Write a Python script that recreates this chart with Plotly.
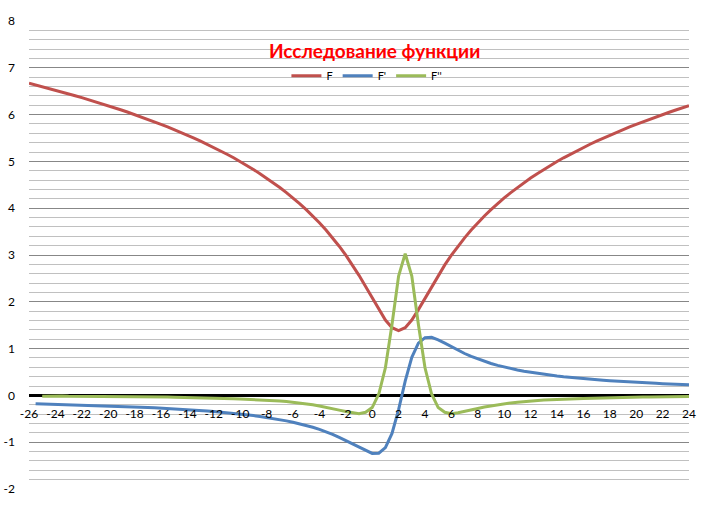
import plotly.graph_objects as go

# x categories (step 0.5)
x_vals = [-26, -25.5, -25, -24.5, -24, -23.5, -23, -22.5, -22, -21.5,
          -21, -20.5, -20, -19.5, -19, -18.5, -18, -17.5, -17, -16.5,
          -16, -15.5, -15, -14.5, -14, -13.5, -13, -12.5, -12, -11.5,
          -11, -10.5, -10, -9.5, -9, -8.5, -8, -7.5, -7, -6.5,
          -6, -5.5, -5, -4.5, -4, -3.5, -3, -2.5, -2, -1.5,
          -1, -0.5, 0, 0.5, 1, 1.5, 2, 2.5, 3, 3.5,
          4, 4.5, 5, 5.5, 6, 6.5, 7, 7.5, 8, 8.5,
          9, 9.5, 10, 10.5, 11, 11.5, 12, 12.5, 13, 13.5,
          14, 14.5, 15, 15.5, 16, 16.5, 17, 17.5, 18, 18.5,
          19, 19.5, 20, 20.5, 21, 21.5, 22, 22.5, 23, 23.5,
          24]

# F
f0 = [6.670, 6.634, 6.597, 6.560, 6.522, 6.484, 6.444, 6.404, 6.363, 6.321,
      6.279, 6.235, 6.190, 6.145, 6.098, 6.050, 6.001, 5.951, 5.900, 5.847,
      5.793, 5.737, 5.680, 5.621, 5.561, 5.498, 5.434, 5.367, 5.298, 5.227,
      5.153, 5.077, 4.997, 4.915, 4.828, 4.738, 4.644, 4.546, 4.443, 4.334,
      4.220, 4.099, 3.970, 3.834, 3.689, 3.534, 3.367, 3.188, 2.996, 2.788,
      2.565, 2.327, 2.079, 1.833, 1.609, 1.447, 1.386, 1.447, 1.609, 1.833,
      2.079, 2.327, 2.565, 2.788, 2.996, 3.188, 3.367, 3.534, 3.689, 3.834,
      3.970, 4.099, 4.220, 4.334, 4.443, 4.546, 4.644, 4.738, 4.828, 4.915,
      4.997, 5.077, 5.153, 5.227, 5.298, 5.367, 5.434, 5.498, 5.561, 5.621,
      5.680, 5.737, 5.793, 5.847, 5.900, 5.951, 6.001, 6.050, 6.098, 6.145,
      6.190]

# F' (starts at -25.5)
f1 = [None,
      -0.179, -0.183, -0.186, -0.190, -0.193, -0.197, -0.201, -0.205, -0.209, -0.214,
      -0.218, -0.223, -0.228, -0.233, -0.239, -0.245, -0.251, -0.257, -0.264, -0.271,
      -0.278, -0.286, -0.295, -0.303, -0.313, -0.323, -0.333, -0.344, -0.356, -0.369,
      -0.383, -0.398, -0.414, -0.431, -0.450, -0.470, -0.493, -0.516, -0.544, -0.573,
      -0.605, -0.641, -0.681, -0.726, -0.776, -0.832, -0.895, -0.964, -1.038, -1.116,
      -1.188, -1.240, -1.234, -1.116, -0.813, -0.303, 0.303, 0.813, 1.116, 1.234,
      1.240, 1.188, 1.116, 1.038, 0.964, 0.895, 0.832, 0.776, 0.726, 0.681,
      0.641, 0.605, 0.573, 0.544, 0.516, 0.493, 0.470, 0.450, 0.431, 0.414,
      0.398, 0.383, 0.369, 0.356, 0.344, 0.333, 0.323, 0.313, 0.303, 0.295,
      0.286, 0.278, 0.271, 0.264, 0.257, 0.251, 0.245, 0.239, 0.233, 0.228]

# F'' (starts at -25)
f2 = [None, None,
      -0.020, -0.015, -0.020, -0.015, -0.020, -0.020, -0.020, -0.020, -0.025,
      -0.020, -0.025, -0.025, -0.025, -0.030, -0.030, -0.030, -0.030, -0.035, -0.035,
      -0.035, -0.040, -0.045, -0.040, -0.050, -0.050, -0.050, -0.055, -0.060, -0.065,
      -0.070, -0.075, -0.080, -0.085, -0.095, -0.100, -0.105, -0.120, -0.130, -0.145,
      -0.160, -0.180, -0.200, -0.225, -0.250, -0.280, -0.315, -0.345, -0.370, -0.390,
      -0.360, -0.260, 0.030, 0.590, 1.515, 2.550, 3.030, 2.550, 1.515, 0.590,
      0.030, -0.260, -0.360, -0.390, -0.370, -0.345, -0.315, -0.280, -0.250, -0.225,
      -0.200, -0.180, -0.160, -0.145, -0.130, -0.120, -0.105, -0.100, -0.095, -0.085,
      -0.080, -0.075, -0.070, -0.065, -0.060, -0.055, -0.050, -0.050, -0.050, -0.040,
      -0.045, -0.040, -0.035, -0.035, -0.035, -0.030, -0.030, -0.030, -0.030, -0.025]

x_ticks = list(range(-26, 25, 2))
x_ticktext = [str(v) for v in x_ticks]
y_ticks = [-2, -1, 0, 1, 2, 3, 4, 5, 6, 7, 8]
y_ticktext = [str(v) for v in y_ticks]

fig = go.Figure()
fig.add_trace(go.Scatter(x=x_vals, y=f0, name="F", mode="lines",
                         line=dict(color="#C0504D", width=3)))
fig.add_trace(go.Scatter(x=x_vals, y=f1, name="F'", mode="lines",
                         line=dict(color="#4F81BD", width=3)))
fig.add_trace(go.Scatter(x=x_vals, y=f2, name="F''", mode="lines",
                         line=dict(color="#9BBB59", width=3)))

# white boxes behind title and legend hide the gridlines there
fig.add_shape(type="rect", xref="paper", yref="paper", x0=0.353, x1=0.692, y0=0.906, y1=0.955,
              fillcolor="white", line_width=0, layer="between")
fig.add_shape(type="rect", xref="paper", yref="paper", x0=0.408, x1=0.623, y0=0.866, y1=0.895,
              fillcolor="white", line_width=0, layer="between")

fig.add_annotation(text="<b>Исследование функции</b>", xref="paper", yref="paper",
                   x=0.523, y=0.938, xanchor="center", yanchor="middle", showarrow=False,
                   font=dict(family="Lato", size=19, color="#FF0000"))

fig.update_layout(
    width=703, height=506,
    margin=dict(l=29, r=14, t=21, b=17, autoexpand=False),
    plot_bgcolor="white", paper_bgcolor="white",
    font=dict(family="Lato", size=12, color="#000000"),
    showlegend=True,
    legend=dict(orientation="h", x=0.512, y=0.883, xanchor="center", yanchor="middle",
                bgcolor="rgba(0,0,0,0)", font=dict(size=11), itemwidth=30,
                tracegroupgap=0),
    xaxis=dict(range=[-26, 24], tickvals=x_ticks, ticktext=x_ticktext,
               showgrid=False, zeroline=False, showline=False, ticks="",
               anchor="free", position=0.2, ticklabelstandoff=10, automargin=False),
    yaxis=dict(range=[-2, 8], tickvals=y_ticks, ticktext=y_ticktext,
               showgrid=True, gridcolor="#878787", gridwidth=1,
               minor=dict(dtick=0.2, showgrid=True, gridcolor="#C0C0C0", gridwidth=1),
               zeroline=True, zerolinecolor="#000000", zerolinewidth=3,
               ticks="", ticklabelstandoff=13, automargin=False),
)

# drop the page's default 8px body margin so the chart sits at the window corner
fig.write_html("out.html", config={"displayModeBar": False},
               post_script="document.body.style.margin='0';")
